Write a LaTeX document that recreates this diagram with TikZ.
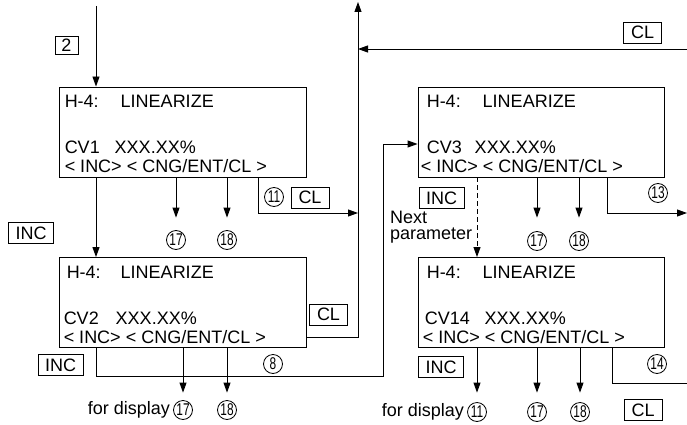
\documentclass[tikz,border=0pt]{standalone}
\usepackage{fontspec}
\setmainfont{Liberation Sans}
\usetikzlibrary{arrows.meta,calc}
\begin{document}
\begin{tikzpicture}[x=1pt,y=-1pt,
  every node/.style={font=\fontsize{18}{21}\selectfont},
  screen/.style={draw,line width=0.9pt,minimum width=247pt,minimum height=90pt,inner sep=0pt},
  ln/.style={line width=0.9pt},
  arr/.style={ln,-{Triangle[length=10pt,width=7pt]}},
  key/.style={draw,line width=0.9pt,minimum height=21pt,inner sep=0pt},
  inckey/.style={key,minimum width=45pt},
  clkey/.style={key,minimum width=38pt},
  num/.style={draw,circle,line width=0.8pt,minimum size=19pt,inner sep=0pt,font=\fontsize{17}{17}\selectfont},
  txt/.style={inner sep=0pt,anchor=base west}]
\useasboundingbox (0,0) rectangle (687,425);
\newcommand{\nm}[1]{\scalebox{0.7}[1]{#1}}

% screens
\node[screen] (b1) at (182.5,132) {};
\node[screen] (b2) at (182.5,302.5) {};
\node[screen,minimum width=246pt] (b3) at (541,132) {};
\node[screen,minimum width=246pt] (b4) at (541,302.5) {};

% screen texts
\node[txt] (b1a) at ($(b1.north west)+(6,21)$) {\makebox[56pt][l]{H-4:}LINEARIZE};
\node[txt] (b1b) at ($(b1.north west)+(6,67)$) {\makebox[50pt][l]{CV1}XXX.XX\%};
\node[txt] (b1c) at ($(b1.north west)+(6,86)$) {< INC> < CNG/ENT/CL >};

\node[txt] (b2a) at ($(b2.north west)+(8,21)$) {\makebox[54pt][l]{H-4:}LINEARIZE};
\node[txt] (b2b) at ($(b2.north west)+(5,67)$) {\makebox[52pt][l]{CV2}XXX.XX\%};
\node[txt] (b2c) at ($(b2.north west)+(5,86)$) {< INC> < CNG/ENT/CL >};

\node[txt] (b3a) at ($(b3.north west)+(9,21)$) {\makebox[56pt][l]{H-4:}LINEARIZE};
\node[txt] (b3b) at ($(b3.north west)+(9,67)$) {\makebox[48pt][l]{CV3}XXX.XX\%};
\node[txt] (b3c) at ($(b3.north west)+(3,86)$) {< INC> < CNG/ENT/CL >};

\node[txt] (b4a) at ($(b4.north west)+(9,21)$) {\makebox[56pt][l]{H-4:}LINEARIZE};
\node[txt] (b4b) at ($(b4.north west)+(7,67)$) {\makebox[60pt][l]{CV14}XXX.XX\%};
\node[txt] (b4c) at ($(b4.north west)+(5,86)$) {< INC> < CNG/ENT/CL >};

% keys
\node[key,minimum width=23pt,minimum height=18pt] (k2) at (66.5,45) {2};
\node[inckey] (ki1) at (31,233) {INC};
\node[clkey] (kc1) at (310,197.5) {CL};
\node[clkey] (kc2) at (328.5,314.5) {CL};
\node[inckey] (ki2) at (60.5,365) {INC};
\node[clkey] (kc3) at (642.5,32.5) {CL};
\node[inckey] (ki3) at (441.5,198) {INC};
\node[inckey] (ki4) at (441,367) {INC};
\node[clkey] (kc4) at (643,410) {CL};

% circled numbers
\node[num] (n1a) at (274,197) {\nm{11}};
\node[num] (n1b) at (176,240) {\nm{17}};
\node[num] (n1c) at (227,240) {\nm{18}};
\node[num] (n2a) at (273,364) {\nm{8}};
\node[num] (n2b) at (183,410) {\nm{17}};
\node[num] (n2c) at (227,410) {\nm{18}};
\node[num] (n3a) at (658,193) {\nm{13}};
\node[num] (n3b) at (537,241) {\nm{17}};
\node[num] (n3c) at (579,241) {\nm{18}};
\node[num] (n4a) at (657,364) {\nm{14}};
\node[num] (n4b) at (477,412) {\nm{11}};
\node[num] (n4c) at (537,412) {\nm{17}};
\node[num] (n4d) at (580,412) {\nm{18}};

% other texts
\node[anchor=east,inner sep=0pt] (fd1) at ($(n2b.west)+(-3,0)$) {for display};
\node[anchor=east,inner sep=0pt] (fd2) at ($(n4b.west)+(-3,0)$) {for display};
\node[inner sep=0pt,anchor=south west,align=left,font=\fontsize{18}{16}\selectfont] (np) at (390,243.8) {Next\\parameter};

% coordinates
\coordinate (in1) at (96,6);
\coordinate (vtop) at (358,2);
\coordinate (vbot) at (358,337);
\coordinate (rin) at (687,49);
\coordinate (j1) at (258,213);
\coordinate (j2) at (96,376);
\coordinate (j3) at (383,376);
\coordinate (j4) at (383,144);
\coordinate (j5) at (607,213);
\coordinate (j6) at (612,383);

% connectors
\draw[arr] (in1) -- (in1 |- b1.north);
\draw[arr] (b1.south -| in1) -- (b2.north -| in1);
\draw[arr,shorten >=12.5pt] (b1.south -| n1b) -- (n1b.north);
\draw[arr,shorten >=12.5pt] (b1.south -| n1c) -- (n1c.north);
\draw[arr] (b1.south -| j1) -- (j1) -- (j1 -| vtop);
\draw[arr] (b2.east |- vbot) -- (vbot) -- (vtop);
\draw[arr] (rin) -- (rin -| vtop);
\draw[arr,shorten >=7.5pt] (b2.south -| n2b) -- (n2b.north);
\draw[arr,shorten >=7.5pt] (b2.south -| n2c) -- (n2c.north);
\draw[arr] (b2.south -| j2) -- (j2) -- (j3) -- (j4) -- (j4 -| b3.west);
\draw[arr,dash pattern=on 5pt off 3pt] (b3.south -| n4b) -- (b4.north -| n4b);
\draw[arr,shorten >=13.5pt] (b3.south -| n3b) -- (n3b.north);
\draw[arr,shorten >=13.5pt] (b3.south -| n3c) -- (n3c.north);
\draw[arr] (b3.south -| j5) -- (j5) -- (j5 -| rin);
\draw[arr,shorten >=9.5pt] (b4.south -| n4b) -- (n4b.north);
\draw[arr,shorten >=9.5pt] (b4.south -| n4c) -- (n4c.north);
\draw[arr,shorten >=9.5pt] (b4.south -| n4d) -- (n4d.north);
\draw[ln] (b4.south -| j6) -- (j6) -- (j6 -| rin);
\end{tikzpicture}
\end{document}
